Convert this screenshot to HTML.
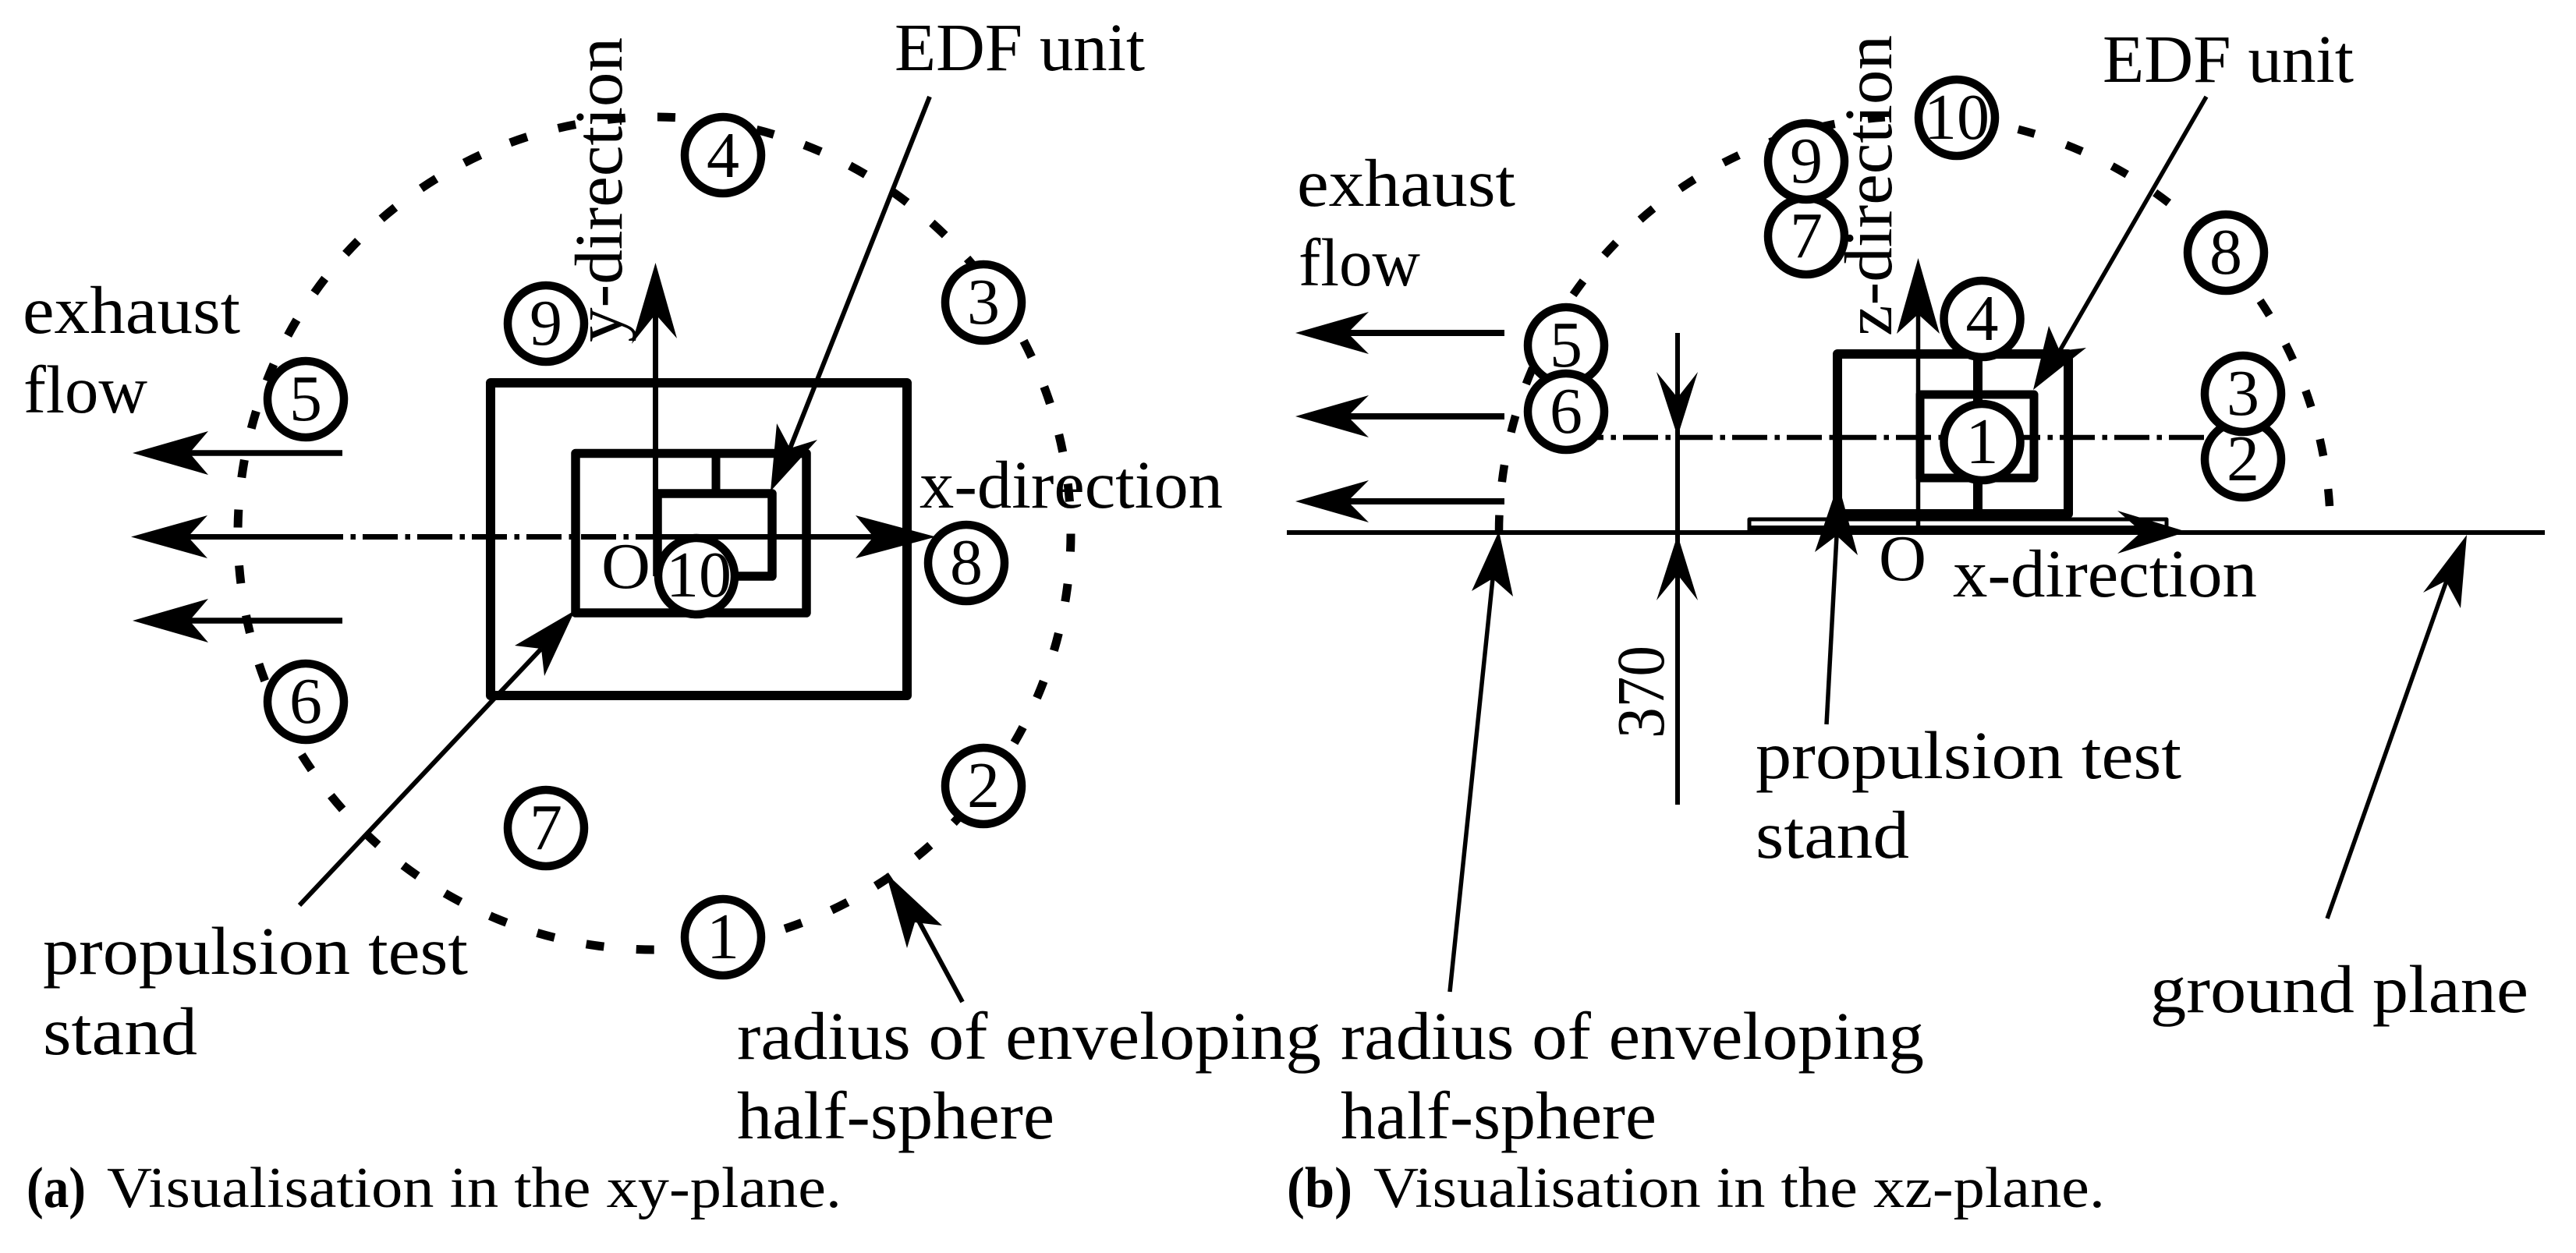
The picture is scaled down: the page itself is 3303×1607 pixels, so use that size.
<!DOCTYPE html>
<html><head><meta charset="utf-8"><style>
html,body{margin:0;padding:0;background:#fff}
svg{display:block}
text{font-family:"Liberation Serif",serif;font-size:87px;fill:#000}
.n{text-anchor:middle;font-size:84px}
</style></head><body>
<svg width="3303" height="1607" viewBox="0 0 3303 1607" xmlns="http://www.w3.org/2000/svg">
<rect width="3303" height="1607" fill="#fff"/>
<!-- LEFT -->
<g fill="none" stroke="#000" stroke-linejoin="round">
<path d="M1373,684A534,534 0 0 0 839,150A534,534 0 0 0 305,684" stroke-width="11" stroke-dasharray="23 41.25" stroke-dashoffset="-40.75"/>
<path d="M1373,684A534,534 0 0 1 839,1218A534,534 0 0 1 305,684" stroke-width="11" stroke-dasharray="23 41.5" stroke-dashoffset="-0.5"/>
<rect x="629" y="491" width="534" height="401" stroke-width="12"/>
<rect x="738" y="581.5" width="296" height="204.5" stroke-width="11.5"/>
<path d="M843,739V633H990V739H880" stroke-width="11.5"/>
<path d="M918,581V633" stroke-width="11"/>
<path d="M840.5,390V688" stroke-width="7"/>
<path d="M220,688.5H395M840,688.5H1140" stroke-width="7"/>
<path d="M395,688.5H840" stroke-width="7" stroke-dasharray="45 9.5 6.5 9"/>
<path d="M235,581H439M235,796H439" stroke-width="7.5"/>
<path d="M1192,124L1013,575" stroke-width="6"/>
<path d="M384,1161L694,832" stroke-width="6"/>
<path d="M1234,1285L1172,1170" stroke-width="6"/>
</g>
<g fill="#000">
<polygon points="840.5,337 868,434 840.5,403 810,441"/>
<polygon points="168,688.5 266,661 241,688.5 266,716"/>
<polygon points="1200,688.5 1097,661 1120,688.5 1097,716"/>
<polygon points="170,581 267,553 243,581 267,609"/>
<polygon points="170,796 267,768 243,796 267,824"/>
<polygon points="988,630 996,543 1013,575 1048,564"/>
<polygon points="737,783 660,828 694,832 698,867"/>
<polygon points="1136,1120 1163,1216 1173,1183 1208,1187"/>
</g>
<g fill="#fff" stroke="#000" stroke-width="10.5">
<circle cx="927" cy="199" r="49"/><circle cx="1261" cy="388" r="49"/><circle cx="700" cy="415" r="49"/><circle cx="392" cy="512" r="49"/><circle cx="1239" cy="722" r="49"/><circle cx="893" cy="739" r="49"/><circle cx="392" cy="900" r="49"/><circle cx="700" cy="1062" r="49"/><circle cx="1261" cy="1008" r="49"/><circle cx="927" cy="1202" r="49"/>
</g>
<text class="n" x="927" y="227">4</text><text class="n" x="1261" y="415">3</text><text class="n" x="700" y="442">9</text><text class="n" x="392" y="539">5</text><text class="n" x="1239" y="749">8</text><text class="n" x="896" y="765">10</text><text class="n" x="392" y="927">6</text><text class="n" x="700" y="1089">7</text><text class="n" x="1261" y="1035">2</text><text class="n" x="927" y="1229">1</text>
<text x="1147" y="90" textLength="321" lengthAdjust="spacingAndGlyphs">EDF unit</text>
<text x="29" y="427" textLength="279" lengthAdjust="spacingAndGlyphs">exhaust</text>
<text x="30" y="529" textLength="159" lengthAdjust="spacingAndGlyphs">flow</text>
<text transform="translate(797 439) rotate(-90)" textLength="391" lengthAdjust="spacingAndGlyphs">y-direction</text>
<text x="1179" y="651" textLength="389" lengthAdjust="spacingAndGlyphs">x-direction</text>
<text x="771" y="754" style="font-size:84px" textLength="63" lengthAdjust="spacingAndGlyphs">O</text>
<text x="55" y="1249" textLength="545" lengthAdjust="spacingAndGlyphs">propulsion test</text>
<text x="55" y="1352" textLength="198" lengthAdjust="spacingAndGlyphs">stand</text>
<text x="945" y="1358" textLength="749" lengthAdjust="spacingAndGlyphs">radius of enveloping</text>
<text x="945" y="1460" textLength="407" lengthAdjust="spacingAndGlyphs">half-sphere</text>
<text x="34" y="1548" style="font-size:74px;font-weight:bold" textLength="76" lengthAdjust="spacingAndGlyphs">(a)</text>
<text x="137" y="1548" style="font-size:74px" textLength="942" lengthAdjust="spacingAndGlyphs">Visualisation in the xy-plane.</text>
<!-- RIGHT -->
<g fill="none" stroke="#000" stroke-linejoin="round">
<path d="M2988,682A533,533 0 0 0 2455,149A533,533 0 0 0 1922,682" stroke-width="10.5" stroke-dasharray="22 42.8" stroke-dashoffset="-33"/>
<path d="M1650,683H3263" stroke-width="6"/>
<path d="M2243,680H2760" stroke-width="12"/>
<path d="M2243,680V666H2778V675" stroke-width="5"/>
<rect x="2356" y="454" width="296" height="205" stroke-width="12"/>
<path d="M2536,454V659" stroke-width="12"/>
<rect x="2462" y="506" width="146" height="107" stroke-width="11"/>
<path d="M2459.5,390V674" stroke-width="5.5"/>
<path d="M2011,561H2830" stroke-width="6.5" stroke-dasharray="45 9.5 6.5 9"/>
<path d="M1725,427H1929M1725,534H1929M1725,643H1929" stroke-width="8"/>
<path d="M2151,427V1032" stroke-width="6"/>
<path d="M2829,124L2641,450" stroke-width="5.5"/>
<path d="M1859,1272L1914,742" stroke-width="5.5"/>
<path d="M2342,929L2355,687" stroke-width="5.5"/>
<path d="M2984,1178L3137,745" stroke-width="5.5"/>
</g>
<g fill="#000">
<polygon points="2459.5,331 2487,428 2459.5,403 2432,428"/>
<polygon points="2804,682 2715,655 2746,682 2715,710"/>
<polygon points="1661,427 1755,400 1728,427 1755,454"/>
<polygon points="1661,534 1755,507 1728,534 1755,561"/>
<polygon points="1661,643 1755,616 1728,643 1755,670"/>
<polygon points="2151,560 2124,477 2151,510 2177,477"/>
<polygon points="2151,686 2124,770 2151,737 2177,770"/>
<polygon points="2607,500 2627,418 2641,450 2675,446"/>
<polygon points="1922,681 1887,758 1914,742 1940,765"/>
<polygon points="2357,620 2327,708 2355,687 2382,712"/>
<polygon points="3163,686 3107,760 3136,745 3155,780"/>
</g>
<g fill="#fff" stroke="#000" stroke-width="10.5">
<circle cx="2509" cy="151" r="49"/><circle cx="2316" cy="303" r="49"/><circle cx="2316" cy="207" r="49"/><circle cx="2854" cy="324" r="49"/><circle cx="2541.5" cy="409" r="49"/><circle cx="2008" cy="443" r="49"/><circle cx="2008" cy="528" r="49"/><circle cx="2876" cy="589" r="49"/><circle cx="2876" cy="505" r="49"/><circle cx="2541.5" cy="567" r="49"/>
</g>
<text class="n" x="2509" y="178">10</text><text class="n" x="2316" y="330">7</text><text class="n" x="2316" y="234">9</text><text class="n" x="2854" y="351">8</text><text class="n" x="2541.5" y="436">4</text><text class="n" x="2008" y="470">5</text><text class="n" x="2008" y="555">6</text><text class="n" x="2876" y="616">2</text><text class="n" x="2876" y="532">3</text><text class="n" x="2541.5" y="594">1</text>
<text x="2696" y="105" textLength="322" lengthAdjust="spacingAndGlyphs">EDF unit</text>
<text x="1663" y="264" textLength="280" lengthAdjust="spacingAndGlyphs">exhaust</text>
<text x="1665" y="366" textLength="156" lengthAdjust="spacingAndGlyphs">flow</text>
<text transform="translate(2425 431) rotate(-90)" textLength="386" lengthAdjust="spacingAndGlyphs">z-direction</text>
<text x="2409" y="744" style="font-size:84px" textLength="61" lengthAdjust="spacingAndGlyphs">O</text>
<text x="2504" y="765" textLength="390" lengthAdjust="spacingAndGlyphs">x-direction</text>
<text transform="translate(2133 947) rotate(-90)" textLength="119" lengthAdjust="spacingAndGlyphs">370</text>
<text x="2251" y="998" textLength="546" lengthAdjust="spacingAndGlyphs">propulsion test</text>
<text x="2251" y="1100" textLength="197" lengthAdjust="spacingAndGlyphs">stand</text>
<text x="2757" y="1298" textLength="485" lengthAdjust="spacingAndGlyphs">ground plane</text>
<text x="1719" y="1358" textLength="748" lengthAdjust="spacingAndGlyphs">radius of enveloping</text>
<text x="1719" y="1460" textLength="405" lengthAdjust="spacingAndGlyphs">half-sphere</text>
<text x="1650" y="1548" style="font-size:74px;font-weight:bold" textLength="84" lengthAdjust="spacingAndGlyphs">(b)</text>
<text x="1761" y="1548" style="font-size:74px" textLength="938" lengthAdjust="spacingAndGlyphs">Visualisation in the xz-plane.</text>
</svg>
</body></html>
